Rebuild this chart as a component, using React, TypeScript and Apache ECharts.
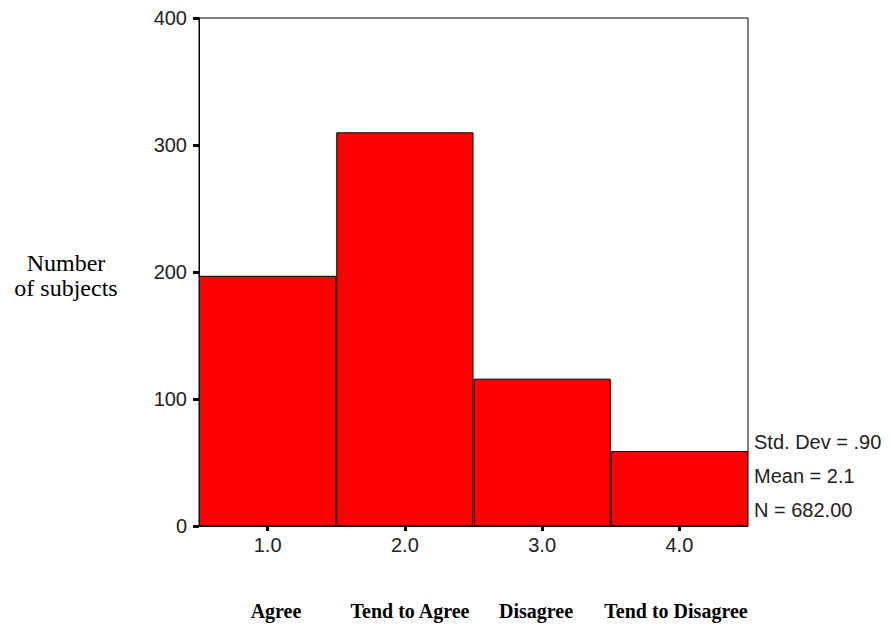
import React, { useEffect, useRef } from "react";
import * as echarts from "echarts";

const categories = ["1.0", "2.0", "3.0", "4.0"];
const counts = [197, 310, 116, 59];
const yTicks = [0, 100, 200, 300, 400];
const statLines = ["Std. Dev = .90", "Mean = 2.1", "N = 682.00"];
const answerLabels = ["Agree", "Tend to Agree", "Disagree", "Tend to Disagree"];
const answerCenters = [276, 410, 536, 676];
const yTitleLines = ["Number", "of subjects"];

const SANS = "Liberation Sans, Arial, sans-serif";
const SERIF = "Liberation Serif, Times New Roman, serif";

export default function App() {
  const ref = useRef<HTMLDivElement>(null);
  useEffect(() => {
    const chart = echarts.init(ref.current!, null, { renderer: "svg" });
    chart.setOption({
      animation: false,
      backgroundColor: "#ffffff",
      grid: {
        left: 199,
        top: 18,
        width: 549,
        height: 508,
        show: true,
        borderColor: "#000",
        borderWidth: 1,
        backgroundColor: "transparent",
      },
      xAxis: {
        type: "category",
        data: categories,
        axisLine: { show: true, lineStyle: { color: "#000", width: 1 } },
        axisTick: { show: true, alignWithLabel: true, length: 5, lineStyle: { color: "#000", width: 3 } },
        axisLabel: { color: "#222", fontSize: 20, fontFamily: SANS, margin: 9 },
        splitLine: { show: false },
      },
      yAxis: {
        type: "value",
        min: 0,
        max: 400,
        interval: 100,
        axisLine: { show: true, lineStyle: { color: "#000", width: 1 } },
        axisTick: { show: true, length: 6, lineStyle: { color: "#000", width: 3 } },
        axisLabel: {
          color: "#222",
          fontSize: 20,
          fontFamily: SANS,
          margin: 12,
          formatter: (v: number) => (yTicks.includes(v) ? String(v) : ""),
        },
        splitLine: { show: false },
      },
      series: [
        {
          type: "bar",
          data: counts,
          barCategoryGap: "0%",
          itemStyle: { color: "#ff0000", borderColor: "#000", borderWidth: 1 },
        },
      ],
      graphic: [
        ...yTitleLines.map((t, i) => ({
          type: "text",
          x: 66,
          y: 263 + i * 25,
          style: {
            text: t,
            fontSize: 24,
            fontFamily: SERIF,
            fill: "#000",
            align: "center",
            verticalAlign: "middle",
          },
        })),
        ...statLines.map((t, i) => ({
          type: "text",
          x: 754,
          y: 442 + i * 34,
          style: {
            text: t,
            fontSize: 20,
            fontFamily: SANS,
            fill: "#222",
            align: "left",
            verticalAlign: "middle",
          },
        })),
        ...answerLabels.map((t, i) => ({
          type: "text",
          x: answerCenters[i],
          y: 611,
          style: {
            text: t,
            fontSize: 20,
            fontWeight: "bold",
            fontFamily: SERIF,
            fill: "#000",
            align: "center",
            verticalAlign: "middle",
          },
        })),
      ],
    });
    return () => chart.dispose();
  }, []);
  return (
    <div
      ref={ref}
      style={{ position: "fixed", left: 0, top: 0, width: 891, height: 625 }}
    />
  );
}
